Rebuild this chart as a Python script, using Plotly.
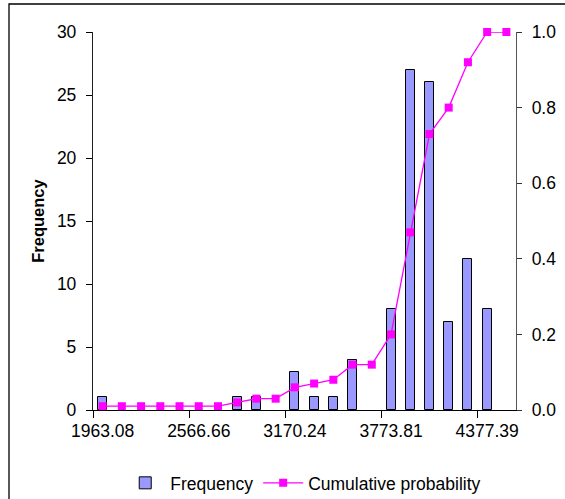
import plotly.graph_objects as go

# Histogram bins (upper bin edges) and the trailing "More" bin
bins = ["1963.08", "2083.80", "2204.51", "2325.23", "2445.94", "2566.66",
        "2687.38", "2808.09", "2928.81", "3049.52", "3170.24", "3290.96",
        "3411.67", "3532.39", "3653.10", "3773.81", "3894.53", "4015.25",
        "4135.96", "4256.68", "4377.39", "More"]
frequency = [1, 0, 0, 0, 0, 0, 0, 1, 1, 0, 3, 1, 1, 4, 0, 8, 27, 26, 7, 12, 8, 0]
cumulative = [0.01, 0.01, 0.01, 0.01, 0.01, 0.01, 0.01, 0.02, 0.03, 0.03, 0.06,
              0.07, 0.08, 0.12, 0.12, 0.20, 0.47, 0.73, 0.80, 0.92, 1.00, 1.00]
tick_labels = ["1963.08", "2566.66", "3170.24", "3773.81", "4377.39"]

xpos = list(range(len(bins)))
tick_pos = [bins.index(t) for t in tick_labels]
boundaries = [p - 0.5 for p in tick_pos]
xrange = [-0.5, len(bins) - 0.5]
# empty bins get no outline so nothing is drawn for them
bar_outline = [1 if f > 0 else 0 for f in frequency]

W, H = 565, 499
L, R, T, B = 93, 49, 32, 89
FONT = "Liberation Sans, Arial, sans-serif"
FS = 17.5

fig = go.Figure()
fig.add_trace(go.Bar(
    x=xpos, y=frequency, name="Frequency", width=0.47,
    marker=dict(color="#9999FF", line=dict(color="#000000", width=bar_outline)),
    xaxis="x", yaxis="y",
))
fig.add_trace(go.Scatter(
    x=xpos, y=cumulative, name="Cumulative probability", mode="lines+markers",
    line=dict(color="#FF00FF", width=1.3),
    marker=dict(symbol="square", size=8, color="#FF00FF"),
    cliponaxis=False, xaxis="x", yaxis="y2",
))

tickfont = dict(family=FONT, size=FS, color="#000000")

fig.update_layout(
    width=W, height=H,
    margin=dict(l=L, r=R, t=T, b=B, autoexpand=False),
    paper_bgcolor="white", plot_bgcolor="white",
    font=dict(family=FONT, size=FS, color="#000000"),
    showlegend=True,
    legend=dict(orientation="h", x=0.497, xanchor="center", y=-0.193,
                yanchor="middle", font=dict(family=FONT, size=FS),
                itemwidth=40, traceorder="normal"),
    bargap=0,
    xaxis=dict(
        range=xrange, tickmode="array", tickvals=tick_pos, ticktext=tick_labels,
        ticks="", showgrid=False, zeroline=False, showline=True,
        linecolor="#000000", linewidth=1.3, tickfont=tickfont,
        minor=dict(tickmode="array", tickvals=boundaries, ticks="outside",
                   ticklen=7, tickcolor="#000000", tickwidth=1),
        ticklabelstandoff=5,
    ),
    xaxis3=dict(
        overlaying="x", anchor="y", range=xrange, tickmode="array",
        tickvals=boundaries, ticks="inside", ticklen=6, tickcolor="#000000",
        showticklabels=False, showgrid=False, zeroline=False, showline=False,
    ),
    xaxis4=dict(
        overlaying="x", anchor="y", side="top", range=xrange,
        showticklabels=False, ticks="", showgrid=False, zeroline=False,
        showline=True, linecolor="#999999", linewidth=1.3,
    ),
    yaxis=dict(
        range=[0, 30], dtick=5, ticks="outside", ticklen=6, tickcolor="#000000",
        showgrid=False, zeroline=False, showline=True, linecolor="#222222",
        linewidth=1.3, tickfont=tickfont, ticklabelstandoff=6,
        title=dict(text="<b>Frequency</b>", font=dict(family=FONT, size=16.5),
                   standoff=8),
    ),
    yaxis3=dict(
        overlaying="y", anchor="x", side="left", range=[0, 30], dtick=5,
        ticks="inside", ticklen=6, tickcolor="#000000", showticklabels=False,
        showgrid=False, zeroline=False, showline=False,
    ),
    yaxis2=dict(
        overlaying="y", anchor="x", side="right", range=[0, 1], dtick=0.2,
        tickformat=".1f", ticks="outside", ticklen=5, tickcolor="#333333",
        showgrid=False, zeroline=False, showline=True, linecolor="#555555",
        linewidth=1.3, tickfont=tickfont, ticklabelstandoff=6,
    ),
    yaxis4=dict(
        overlaying="y", anchor="x", side="right", range=[0, 1], dtick=0.2,
        ticks="inside", ticklen=5, tickcolor="#333333", showticklabels=False,
        showgrid=False, zeroline=False, showline=False,
    ),
)

# Outer chart-area frame (left and top edges visible within the page)
pw, ph = W - L - R, H - T - B
fig.add_shape(type="rect", xref="paper", yref="paper",
              x0=(9 - L) / pw, x1=(W + 10 - L) / pw,
              y0=(H - B - (H + 10)) / ph, y1=(H - B - 4) / ph,
              line=dict(color="#000000", width=1.3), fillcolor="rgba(0,0,0,0)",
              layer="below")

fig.write_html("out.html")
